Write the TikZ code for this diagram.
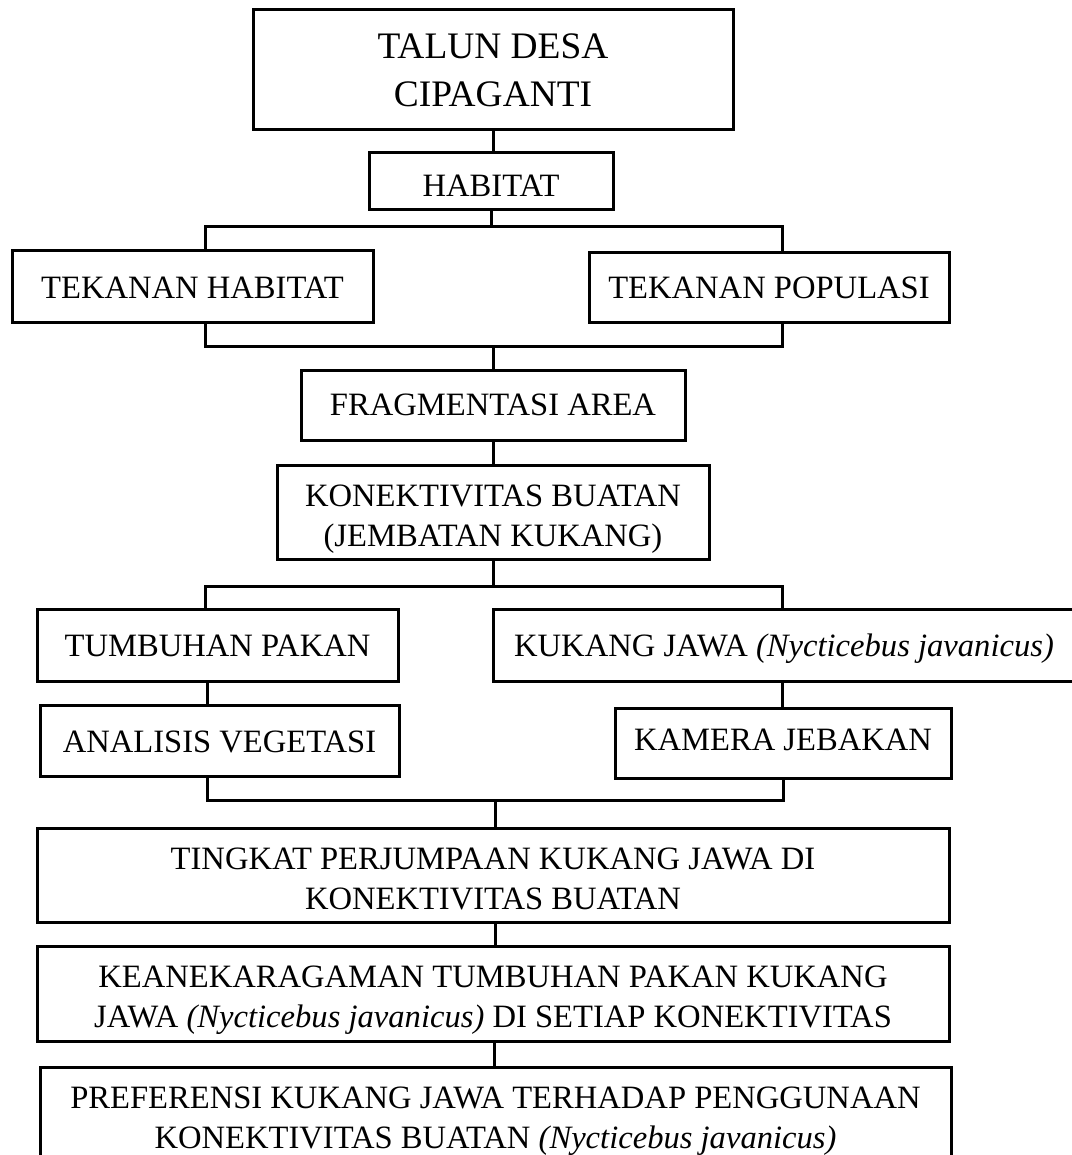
\documentclass[tikz,border=0pt]{standalone}
\usepackage{fontspec}
\setmainfont{Liberation Serif}
\begin{document}
\begin{tikzpicture}[x=1pt,y=-1pt,
  box/.style={draw=black,line width=3pt,rectangle,inner sep=0pt},
  txt/.style={inner sep=0pt,align=center,font=\fontsize{32.6}{40}\selectfont},
  titletxt/.style={txt,font=\fontsize{37.4}{48}\selectfont},
  conn/.style={draw=black,line width=3pt,line join=miter}]
\useasboundingbox (0,0) rectangle (1071,1155);
\fill[white] (0,0) rectangle (1071,1155);
% boxes
\node[box,minimum width=480,minimum height=120] (talun) at (493,70) {};
\node[box,minimum width=244,minimum height=57] (habitat) at (491,181.5) {};
\node[box,minimum width=361,minimum height=71] (tekhab) at (192.5,286.5) {};
\node[box,minimum width=360,minimum height=69] (tekpop) at (769,287.5) {};
\node[box,minimum width=384,minimum height=70] (frag) at (493,405) {};
\node[box,minimum width=432,minimum height=94] (konek) at (493,512) {};
\node[box,minimum width=361,minimum height=72] (tumbuhan) at (217.5,645) {};
\node[box,minimum width=582,minimum height=72] (kukang) at (784,645) {};
\node[box,minimum width=359,minimum height=71] (analisis) at (219.5,740.5) {};
\node[box,minimum width=336,minimum height=70] (kamera) at (783,743) {};
\node[box,minimum width=912,minimum height=94] (tingkat) at (493,875) {};
\node[box,minimum width=912,minimum height=95] (keanek) at (493,993.5) {};
\node[box,minimum width=911,minimum height=100] (pref) at (495.5,1117) {};
% texts
\node[titletxt] (talunT) at (talun.center) {TALUN DESA\\CIPAGANTI};
\node[txt] (habitatT) at ([yshift=-4pt]habitat.center) {HABITAT};
\node[txt] (tekhabT) at ([yshift=-1pt]tekhab.center) {TEKANAN HABITAT};
\node[txt] (tekpopT) at (tekpop.center) {TEKANAN POPULASI};
\node[txt] (fragT) at (frag.center) {FRAGMENTASI AREA};
\node[txt] (konekT) at ([yshift=-7pt]konek.center) {KONEKTIVITAS BUATAN\\(JEMBATAN KUKANG)};
\node[txt] (tumbuhanT) at ([yshift=-1pt]tumbuhan.center) {TUMBUHAN PAKAN};
\node[txt] (kukangT) at ([yshift=-4pt]kukang.center) {KUKANG JAWA \textit{(Nycticebus javanicus)}};
\node[txt] (analisisT) at ([yshift=-1pt]analisis.center) {ANALISIS VEGETASI};
\node[txt] (kameraT) at ([yshift=3pt]kamera.center) {KAMERA JEBAKAN};
\node[txt] (tingkatT) at ([yshift=-4pt]tingkat.center) {TINGKAT PERJUMPAAN KUKANG JAWA DI\\KONEKTIVITAS BUATAN};
\node[txt] (keanekT) at ([yshift=-7pt]keanek.center) {KEANEKARAGAMAN TUMBUHAN PAKAN KUKANG\\JAWA \textit{(Nycticebus javanicus)} DI SETIAP KONEKTIVITAS};
\node[txt] (prefT) at ([yshift=-4pt]pref.center) {PREFERENSI KUKANG JAWA TERHADAP PENGGUNAAN\\KONEKTIVITAS BUATAN \textit{(Nycticebus javanicus)}};
% junction coordinates
\coordinate (jL1) at (205,227); \coordinate (jR1) at (782,227);
\coordinate (jL2) at (205,346); \coordinate (jR2) at (782,346);
\coordinate (jL3) at (205,586); \coordinate (jR3) at (782,586);
\coordinate (jL4) at (207,800); \coordinate (jR4) at (783,800);
\coordinate (jM4) at (495,800);
% connectors
\draw[conn] (talun.south) -- (talun.south |- habitat.north);
\draw[conn] (habitat.south) -- (habitat.south |- jL1);
\draw[conn] (jL1 |- tekhab.north) -- (jL1) -- (jR1) -- (jR1 |- tekpop.north);
\draw[conn] (jL2 |- tekhab.south) -- (jL2) -- (jR2) -- (jR2 |- tekpop.south);
\draw[conn] (frag.north |- jL2) -- (frag.north);
\draw[conn] (frag.south) -- (konek.north);
\draw[conn] (konek.south) -- (konek.south |- jL3);
\draw[conn] (jL3 |- tumbuhan.north) -- (jL3) -- (jR3) -- (jR3 |- kukang.north);
\draw[conn] (jL4 |- tumbuhan.south) -- (jL4 |- analisis.north);
\draw[conn] (jR1 |- kukang.south) -- (jR1 |- kamera.north);
\draw[conn] (jL4 |- analisis.south) -- (jL4) -- (jR4) -- (jR4 |- kamera.south);
\draw[conn] (jM4) -- (jM4 |- tingkat.north);
\draw[conn] (jM4 |- tingkat.south) -- (jM4 |- keanek.north);
\draw[conn] ([xshift=1.5pt]keanek.south) -- ([xshift=1.5pt]keanek.south |- pref.north);
\end{tikzpicture}
\end{document}
